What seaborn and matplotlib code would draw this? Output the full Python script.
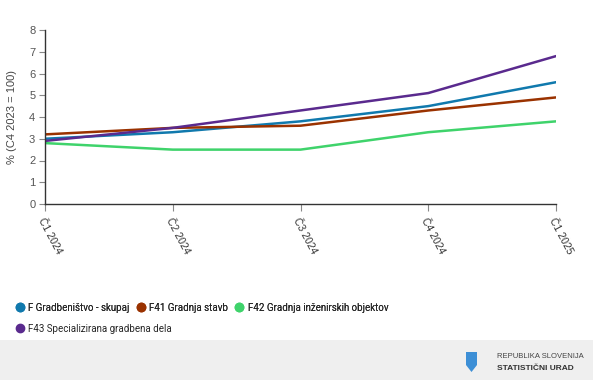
import numpy as np
import pandas as pd
import matplotlib
matplotlib.use("Agg")
import matplotlib.pyplot as plt
import seaborn as sns
from matplotlib.patches import Rectangle, Polygon
from matplotlib.lines import Line2D

# Data
quarters = ["Č1 2024", "Č2 2024", "Č3 2024", "Č4 2024", "Č1 2025"]
f_total = [3.0, 3.3, 3.8, 4.5, 5.6]
f41 = [3.2, 3.5, 3.6, 4.3, 4.9]
f42 = [2.8, 2.5, 2.5, 3.3, 3.8]
f43 = [2.9, 3.5, 4.3, 5.1, 6.8]

series_names = ["F Gradbeništvo - skupaj", "F41 Gradnja stavb",
                "F42 Gradnja inženirskih objektov", "F43 Specializirana gradbena dela"]
colors = ["#1079ad", "#9a3200", "#3fd36b", "#5a2a8e"]

df = pd.DataFrame({
    "quarter": quarters * 4,
    "value": f_total + f41 + f42 + f43,
    "series": [s for s in series_names for _ in quarters],
})
df["x"] = df["quarter"].map({q: i for i, q in enumerate(quarters)})

sns.set_style("white")
plt.rcParams["font.family"] = ["Liberation Sans", "DejaVu Sans"]

fig = plt.figure(figsize=(5.93, 3.80), dpi=100)
ax = fig.add_axes([45 / 593, 1 - 204 / 380, (556 - 45) / 593, (204 - 30) / 380])

sns.lineplot(data=df, x="x", y="value", hue="series", palette=colors,
             hue_order=series_names, linewidth=1.8, ax=ax, legend=False)

ax.set_xlim(0, len(quarters) - 1)
ax.set_ylim(0, 8)
ax.set_yticks(range(0, 9))
ax.set_xticks(range(len(quarters)))
ax.set_xticklabels(quarters, rotation=-62, ha="left", va="top",
                   rotation_mode="anchor", fontsize=7.5, color="#333333")
ax.tick_params(axis="y", labelsize=8, labelcolor="#555555", length=4,
               color="#888888", width=0.8, left=True, pad=3)
ax.tick_params(axis="x", length=5, color="#888888", width=0.8, bottom=True, pad=4)
ax.set_xlabel("")
ax.set_ylabel("% (C4 2023 = 100)", fontsize=8, color="#444444", labelpad=9)

for side in ["top", "right"]:
    ax.spines[side].set_visible(False)
for side in ["left", "bottom"]:
    ax.spines[side].set_color("#333333")
    ax.spines[side].set_linewidth(1.0)

# Legend: three items on the first row, one on the second
leg_font = {"family": ["Roboto", "DejaVu Sans"], "size": 7}
handles = [Line2D([], [], marker="o", linestyle="", markersize=6,
                  markerfacecolor=c, markeredgecolor=c) for c in colors]
leg1 = fig.legend(handles[:3], series_names[:3], loc="upper left",
                  bbox_to_anchor=(9 / 593, 1 - 299 / 380), ncol=3, frameon=False,
                  prop=leg_font, handletextpad=0.1, columnspacing=0.4,
                  handlelength=1.5, borderaxespad=0)
fig.add_artist(leg1)
fig.legend(handles[3:], series_names[3:], loc="upper left",
           bbox_to_anchor=(9 / 593, 1 - 320 / 380), frameon=False,
           prop=leg_font, handletextpad=0.1, handlelength=1.5, borderaxespad=0)

# Footer band with the institution mark
fig.patches.append(Rectangle((0, 0), 1, 40 / 380, transform=fig.transFigure,
                             facecolor="#efefef", edgecolor="none", zorder=0))
shield = [(466, 352), (477, 352), (477, 365), (471.5, 372), (466, 365)]
fig.patches.append(Polygon([(x / 593, 1 - y / 380) for x, y in shield], closed=True,
                           transform=fig.transFigure, facecolor="#3d8fd6",
                           edgecolor="none"))
fig.text(497 / 593, 1 - 356 / 380, "REPUBLIKA SLOVENIJA", fontsize=5.5,
         color="#444444", va="center", ha="left")
fig.text(497 / 593, 1 - 368 / 380, "STATISTIČNI URAD", fontsize=6,
         color="#333333", va="center", ha="left", fontweight="bold")

fig.savefig("out.png", dpi=100)
